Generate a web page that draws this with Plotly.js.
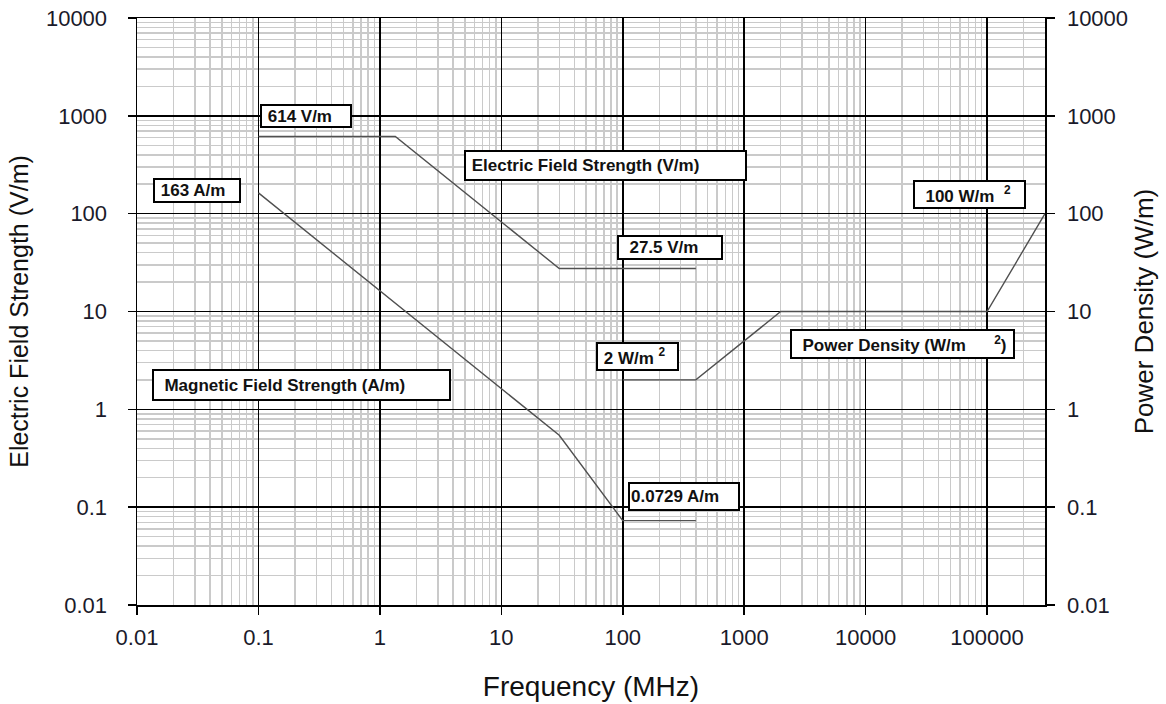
<!DOCTYPE html>
<html>
<head>
<meta charset="utf-8">
<script src="https://cdn.plot.ly/plotly-3.0.1.min.js"></script>
<style>html,body{margin:0;padding:0;background:#fff;}#chart{width:1166px;height:704px;}</style>
</head>
<body>
<div id="chart"></div>
<script>
// ---- data ----
const eFreq = [0.1, 1.34, 30, 400];
const eVal = [614, 614, 27.5, 27.5];
const hFreq = [0.1, 30, 100, 400];
const hVal = [163, 0.543, 0.0729, 0.0729];
const sFreq = [100, 400, 2000, 100000, 300000];
const sVal = [2, 2, 10, 10, 100];

const xTickVals = [0.01, 0.1, 1, 10, 100, 1000, 10000, 100000];
const xTickText = ['0.01', '0.1', '1', '10', '100', '1000', '10000', '100000'];
const yTickVals = [0.01, 0.1, 1, 10, 100, 1000, 10000];
const yTickText = ['0.01', '0.1', '1', '10', '100', '1000', '10000'];

const labelTexts = ['614 V/m', '163 A/m', 'Electric Field Strength (V/m)', '27.5 V/m',
  '100 W/m\u00a0\u00a0<sup>2</sup>', '2 W/m\u00a0<sup>2</sup>',
  'Power Density (W/m\u00a0\u00a0\u00a0\u00a0\u00a0\u00a0<sup>2</sup>)',
  'Magnetic Field Strength (A/m)', '0.0729 A/m'];

// ---- layout geometry (pixels) ----
const W = 1166, H = 704;
const M = {l: 137, r: 121, t: 18, b: 99};
const PW = W - M.l - M.r, PH = H - M.t - M.b;
// box outer edges [left, top, right, bottom]
const boxes = [
  [260, 104, 352, 128],
  [153, 178, 241, 203],
  [464, 150, 747, 181],
  [617, 235, 723, 260],
  [913, 180, 1026, 209],
  [596, 342, 679, 371],
  [790, 329, 1015, 359],
  [152, 369, 451, 401],
  [628, 482, 740, 511]
];
const leadSpaces = [1, 1, 1, 2, 2, 1, 2, 2, 0];

function minorVals(lo, hi) {
  const out = [];
  for (let e = lo; e < hi; e++) {
    for (let d = 2; d <= 9; d++) out.push(d * Math.pow(10, e));
  }
  return out;
}

const lineStyle = {color: '#505050', width: 1.4};
const traces = [
  {x: eFreq, y: eVal, mode: 'lines', line: lineStyle, name: 'Electric Field Strength (V/m)', showlegend: false},
  {x: hFreq, y: hVal, mode: 'lines', line: lineStyle, name: 'Magnetic Field Strength (A/m)', showlegend: false},
  {x: sFreq, y: sVal, mode: 'lines', line: lineStyle, name: 'Power Density (W/m²)', showlegend: false, yaxis: 'y2'}
];

const bw = 2, pad = 1;
const annotations = labelTexts.map((t, i) => {
  const b = boxes[i];
  const w = b[2] - b[0], h = b[3] - b[1];
  return {
    xref: 'paper', yref: 'paper',
    x: (b[0] - M.l) / PW, y: (H - M.b - b[1]) / PH,
    xanchor: 'left', yanchor: 'top',
    text: '\u00a0'.repeat(leadSpaces[i]) + t,
    showarrow: false,
    align: 'left', valign: 'middle',
    width: w - 2 * bw - 2 * pad, height: h - 2 * bw - 2 * pad,
    bgcolor: '#ffffff', bordercolor: '#000000', borderwidth: bw, borderpad: pad,
    font: {family: 'Liberation Sans, Arial, sans-serif', size: 17, color: '#111111', weight: 'bold'}
  };
});

const tickFont = {family: 'Liberation Sans, Arial, sans-serif', size: 22, color: '#1a1a2a'};
const titleFontX = {family: 'Liberation Sans, Arial, sans-serif', size: 28, color: '#111111'};
const titleFontY = {family: 'Liberation Sans, Arial, sans-serif', size: 25, color: '#111111'};
const titleFontY2 = {family: 'Liberation Sans, Arial, sans-serif', size: 26, color: '#111111'};

const axisCommon = {
  type: 'log',
  showline: true, linecolor: '#000', linewidth: 1.5,
  ticks: 'outside', ticklen: 8, tickwidth: 1.5, tickcolor: '#000',
  showgrid: true, gridcolor: '#000', gridwidth: 1.5,
  tickfont: tickFont,
  zeroline: false
};

const trail = '\u00a0'.repeat(6);
const layout = {
  width: W, height: H,
  margin: M,
  paper_bgcolor: '#fff', plot_bgcolor: '#fff',
  showlegend: false,
  xaxis: Object.assign({}, axisCommon, {
    range: [-2, Math.log10(300000)],
    tickmode: 'array', tickvals: xTickVals, ticktext: xTickText,
    ticklabelstandoff: 4,
    mirror: true,
    minor: {tickmode: 'array', tickvals: minorVals(-2, 6).filter(v => v < 300000), showgrid: true, gridcolor: '#cacaca', gridwidth: 1.5, ticks: ''},
    title: {text: 'Frequency (MHz)', font: titleFontX, standoff: 27}
  }),
  yaxis: Object.assign({}, axisCommon, {
    range: [-2, 4],
    tickmode: 'array', tickvals: yTickVals, ticktext: yTickText,
    ticklabelstandoff: 16,
    minor: {tickmode: 'array', tickvals: minorVals(-2, 4), showgrid: true, gridcolor: '#cacaca', gridwidth: 1.5, ticks: ''},
    title: {text: 'Electric Field Strength (V/m)' + trail, font: titleFontY, standoff: 10}
  }),
  yaxis2: Object.assign({}, axisCommon, {
    range: [-2, 4], overlaying: 'y', side: 'right',
    tickmode: 'array', tickvals: yTickVals, ticktext: yTickText,
    ticklabelstandoff: 8,
    showgrid: false,
    title: {text: 'Power Density (W/m)' + trail, font: titleFontY2, standoff: 7}
  }),
  annotations: annotations
};

Plotly.newPlot('chart', traces, layout, {displayModeBar: false, staticPlot: true});
</script>
</body>
</html>
